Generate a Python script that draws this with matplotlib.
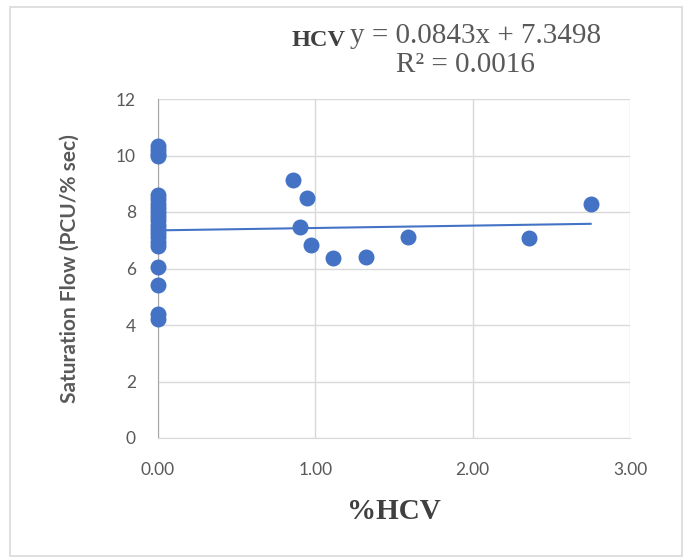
import matplotlib.pyplot as plt
from matplotlib.patches import Rectangle

# %HCV against saturation flow, one point per approach
hcv_pct = [0.0] * 21 + [0.86, 0.95, 0.90, 0.97, 1.11, 1.32, 1.59, 2.36, 2.75]
sat_flow = [10.35, 10.2, 10.05, 10.0, 8.6, 8.45, 8.3, 8.15, 8.0, 7.85, 7.7,
            7.55, 7.4, 7.25, 7.1, 6.95, 6.8, 6.05, 5.4, 4.4, 4.2,
            9.13, 8.50, 7.47, 6.83, 6.37, 6.41, 7.12, 7.08, 8.28]

# linear trendline coefficients as reported on the chart
slope = 0.0843
intercept = 7.3498
r_squared = 0.0016

x_ticks = [0, 1, 2, 3]
y_ticks = [0, 2, 4, 6, 8, 10, 12]

blue = "#4472C4"
grey_text = "#595959"

fig = plt.figure(figsize=(6.86, 5.59), dpi=100)
fig.patch.set_facecolor("white")
fig.patches.append(Rectangle((10 / 686, 3 / 559), 672 / 686, 549 / 559,
                             transform=fig.transFigure, fill=False,
                             edgecolor="#d9d9d9", linewidth=1.2))

ax = fig.add_axes([158 / 686, 1 - 438 / 559, 472 / 686, 339 / 559])
ax.set_xlim(0, 3)
ax.set_ylim(0, 12)
ax.set_xticks(x_ticks)
ax.set_yticks(y_ticks)
ax.set_xticklabels([f"{v:.2f}" for v in x_ticks])
ax.set_yticklabels([str(v) for v in y_ticks])
ax.grid(True, color="#d9d9d9", linewidth=1)
ax.set_axisbelow(True)
for side in ["top", "right"]:
    ax.spines[side].set_visible(False)
ax.spines["left"].set_color("#a6a6a6")
ax.spines["bottom"].set_color("#d9d9d9")
ax.tick_params(length=0, labelsize=12.5, labelcolor=grey_text)
ax.tick_params(axis="x", pad=17)
ax.tick_params(axis="y", pad=16)
for lbl in ax.get_xticklabels() + ax.get_yticklabels():
    lbl.set_family("Lato")

ax.scatter(hcv_pct, sat_flow, s=110, color=blue, zorder=3, clip_on=False)

x_end = max(hcv_pct)
ax.plot([0, x_end], [intercept, intercept + slope * x_end], color=blue,
        linewidth=1.5, zorder=2)

ax.set_ylabel("Saturation Flow (PCU/% sec)", family="Lato", fontweight="bold",
              fontsize=15, color=grey_text, labelpad=26)
ax.set_xlabel("%HCV", family="Liberation Serif", fontweight="bold",
              fontsize=21, color="#404040", labelpad=15)

fig.text(319 / 686, 1 - 41 / 559, "HCV", family="Liberation Serif",
         fontweight="bold", fontsize=17.5, color="#404040",
         ha="center", va="center")
fig.text(476 / 686, 1 - 36 / 559, f"y = {slope}x + {intercept}",
         family="Liberation Serif", fontsize=21, color=grey_text,
         ha="center", va="center")
fig.text(465 / 686, 1 - 65 / 559, f"R² = {r_squared}",
         family="Liberation Serif", fontsize=21, color=grey_text,
         ha="center", va="center")

fig.savefig("out.png", dpi=100)
